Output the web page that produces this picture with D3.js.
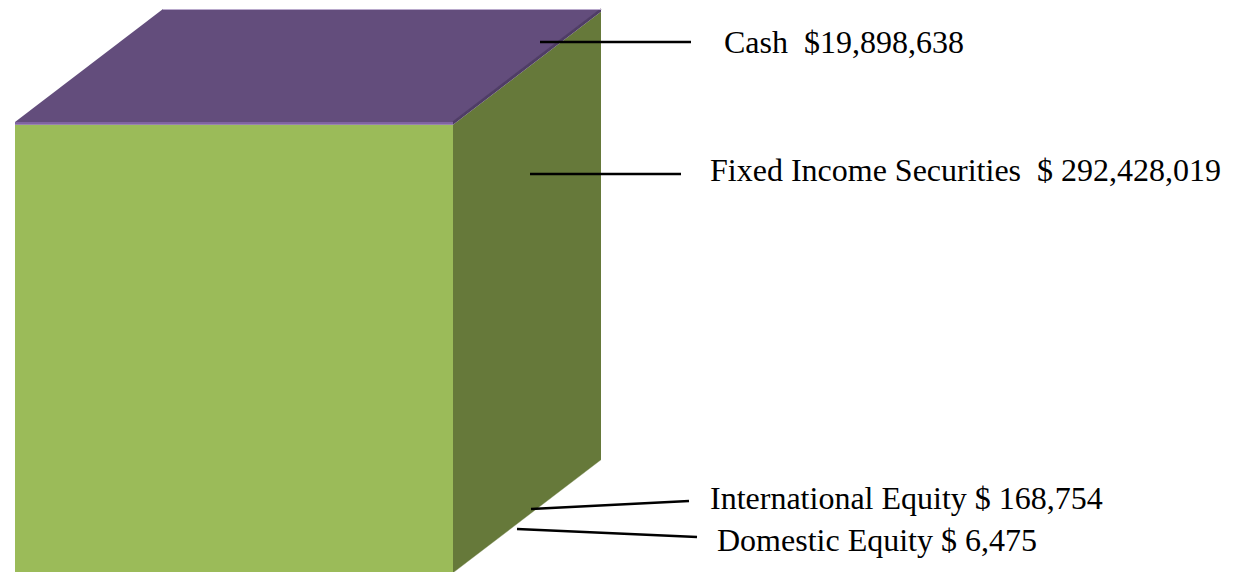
<!DOCTYPE html>
<html>
<head>
<meta charset="utf-8">
<script src="https://cdn.jsdelivr.net/npm/d3@7"></script>
<style>
  html, body { margin: 0; padding: 0; background: #ffffff; }
  svg { display: block; }
</style>
</head>
<body>
<svg id="chart" width="1243" height="572"></svg>
<script>
// ---- data ----
const categories = ["Domestic Equity", "International Equity", "Fixed Income Securities", "Cash"];
const values = [6475, 168754, 292428019, 19898638];
const labelTexts = ["Domestic Equity $ 6,475", "International Equity $ 168,754", "Fixed Income Securities  $ 292,428,019", "Cash  $19,898,638"];
const column = ["Assets"];
const axisMax = 294400000;

// ---- styles ----
const frontColors = ["#9BBB59", "#9BBB59", "#9BBB59", "#8064A2"];
const sideColors  = ["#66793A", "#66793A", "#66793A", "#4F3D66"];
const topColors   = ["#9BBB59", "#9BBB59", "#66793A", "#634D7C"];

const svg = d3.select("#chart");

const x = d3.scaleBand().domain(column).range([15, 453]).padding(0);
const y = d3.scaleLinear().domain([0, axisMax]).range([573, 122]).clamp(true);
const depth = { dx: 148, dy: -113 };

// stack
let cum = 0;
const segs = categories.map((c, i) => {
  const s = { name: c, i, v0: cum, v1: cum + values[i] };
  cum += values[i];
  return s;
});

const x0 = x(column[0]), x1 = x0 + x.bandwidth();
const g = svg.append("g");

segs.forEach(s => {
  const yb = y(s.v0), yt = y(s.v1);
  if (yb - yt <= 0) return;
  g.append("rect").attr("x", x0).attr("y", yt).attr("width", x1 - x0).attr("height", yb - yt)
    .attr("fill", frontColors[s.i]);
  g.append("path").attr("d", `M${x1},${yb} L${x1 + depth.dx},${yb + depth.dy} L${x1 + depth.dx},${yt + depth.dy} L${x1},${yt} Z`)
    .attr("fill", sideColors[s.i]);
});

// top face of the (clipped) stack
const last = segs[segs.length - 1];
const yTop = y(last.v1);
g.append("path").attr("d", `M${x0},${yTop} L${x0 + depth.dx},${yTop + depth.dy} L${x1 + depth.dx},${yTop + depth.dy} L${x1},${yTop} Z`)
  .attr("fill", topColors[last.i]);
g.append("line").attr("x1", x1).attr("y1", yTop).attr("x2", x1 + depth.dx).attr("y2", yTop + depth.dy)
  .attr("stroke", "#4F3D66").attr("stroke-width", 1.5);
g.append("line").attr("x1", x0 + depth.dx).attr("y1", yTop + depth.dy + 0.5).attr("x2", x1 + depth.dx).attr("y2", yTop + depth.dy + 0.5)
  .attr("stroke", "#B9A9CC").attr("stroke-width", 1);

// ---- labels with leader lines (layout) ----
const labelLayout = [
  { ax: 517, ay: 529, lx: 697, ly: 537, tx: 717, ty: 551 },
  { ax: 531, ay: 509, lx: 689, ly: 501, tx: 710, ty: 509 },
  { ax: 530, ay: 174, lx: 681, ly: 174, tx: 710, ty: 181 },
  { ax: 540, ay: 42,  lx: 691, ly: 42,  tx: 724, ty: 53 }
];

const lg = svg.append("g");
segs.forEach(s => {
  const L = labelLayout[s.i];
  lg.append("line").attr("x1", L.ax).attr("y1", L.ay).attr("x2", L.lx).attr("y2", L.ly)
    .attr("stroke", "#000").attr("stroke-width", 2.5);
  lg.append("text").attr("x", L.tx).attr("y", L.ty)
    .attr("font-family", "'Liberation Serif', 'Times New Roman', serif")
    .attr("font-size", 32).attr("fill", "#000")
    .attr("xml:space", "preserve").style("white-space", "pre")
    .text(labelTexts[s.i]);
});
</script>
</body>
</html>
